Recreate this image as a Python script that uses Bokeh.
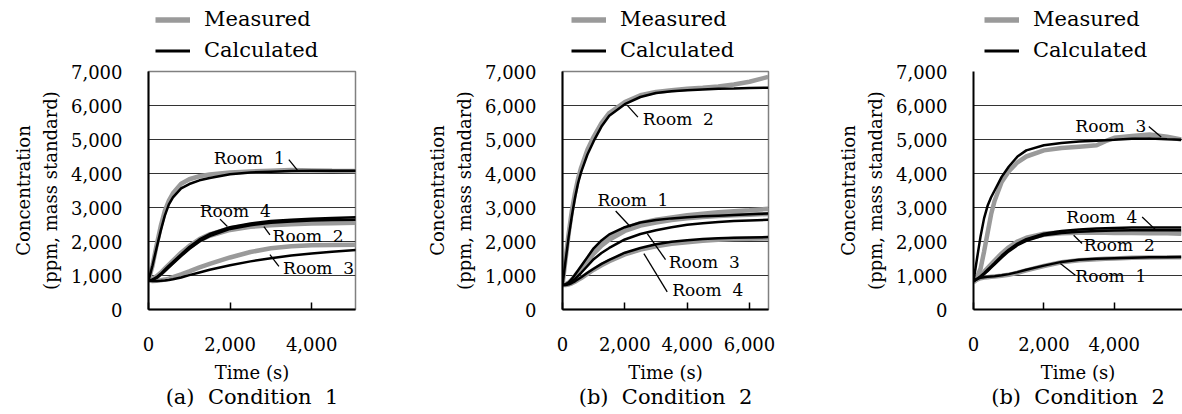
from bokeh.plotting import figure
from bokeh.layouts import row, column
from bokeh.models import (Range1d, FixedTicker, NumeralTickFormatter, Label, Legend,
                          LegendItem, Title, Grid)
from bokeh.embed import file_html
from bokeh.resources import INLINE

NB = "\u00a0"
FONT = "DejaVu Serif"

# ---------------- data ----------------
# Condition 1 (a)
t1 = [0, 100, 200, 300, 400, 500, 600, 800, 1000, 1250, 1500, 2000, 2500, 3000, 3500, 4000, 4500, 5100]
c1_room1_calc = [850, 1300, 1820, 2320, 2760, 3090, 3300, 3560, 3690, 3800, 3870, 3980, 4030, 4055, 4070, 4078, 4080, 4080]
c1_room1_meas = [850, 1300, 1900, 2450, 2900, 3200, 3420, 3700, 3830, 3920, 3970, 4030, 4060, 4080, 4100, 4090, 4080, 4070]
c1_room4_calc = [850, 880, 950, 1050, 1170, 1290, 1400, 1620, 1840, 2060, 2220, 2420, 2530, 2600, 2640, 2670, 2690, 2710]
c1_room4_meas = [850, 900, 980, 1080, 1200, 1320, 1440, 1670, 1870, 2070, 2210, 2390, 2480, 2530, 2560, 2580, 2590, 2600]
c1_room2_calc = [850, 870, 930, 1020, 1130, 1240, 1350, 1570, 1780, 2000, 2160, 2370, 2480, 2550, 2590, 2615, 2630, 2640]
c1_room2_meas = [850, 880, 950, 1050, 1160, 1280, 1400, 1630, 1830, 2030, 2170, 2340, 2430, 2480, 2510, 2530, 2540, 2550]
c1_room3_calc = [850, 840, 840, 845, 855, 870, 890, 940, 1010, 1090, 1170, 1300, 1415, 1510, 1585, 1650, 1700, 1750]
c1_room3_meas = [850, 840, 845, 860, 880, 910, 950, 1030, 1120, 1240, 1340, 1530, 1690, 1800, 1860, 1890, 1900, 1905]

# Condition 2 (b)
t2 = [0, 100, 200, 300, 400, 500, 600, 800, 1000, 1250, 1500, 2000, 2500, 3000, 3500, 4000, 4500, 5000, 5500, 6000, 6600]
c2_room2_calc = [720, 1450, 2150, 2750, 3280, 3720, 4050, 4560, 4950, 5380, 5700, 6040, 6250, 6370, 6420, 6450, 6470, 6490, 6500, 6515, 6525]
c2_room2_meas = [720, 1500, 2250, 2900, 3420, 3850, 4180, 4700, 5080, 5480, 5780, 6100, 6300, 6400, 6450, 6490, 6520, 6560, 6620, 6700, 6840]
c2_room1_calc = [720, 740, 800, 900, 1020, 1150, 1280, 1540, 1800, 2030, 2210, 2420, 2560, 2630, 2680, 2710, 2740, 2760, 2780, 2800, 2820]
c2_room1_meas = [720, 740, 790, 880, 990, 1110, 1230, 1480, 1740, 1970, 2150, 2380, 2540, 2640, 2710, 2770, 2820, 2860, 2890, 2920, 2960]
c2_room3_calc = [720, 730, 760, 820, 900, 990, 1080, 1280, 1480, 1660, 1810, 2060, 2220, 2330, 2420, 2490, 2540, 2570, 2600, 2620, 2640]
c2_room3_meas = [720, 740, 780, 850, 950, 1060, 1170, 1400, 1640, 1880, 2050, 2310, 2470, 2560, 2630, 2680, 2720, 2750, 2770, 2790, 2810]
c2_room4_calc = [720, 720, 740, 780, 830, 890, 950, 1080, 1200, 1340, 1460, 1670, 1810, 1920, 1990, 2040, 2075, 2095, 2110, 2120, 2130]
c2_room4_meas = [720, 720, 735, 770, 815, 870, 925, 1050, 1170, 1300, 1420, 1620, 1760, 1860, 1930, 1980, 2020, 2050, 2070, 2080, 2090]

# Condition 2 (third panel)
t3 = [0, 100, 200, 300, 400, 500, 600, 800, 1000, 1250, 1500, 2000, 2500, 3000, 3500, 3750, 4000, 4500, 5000, 5500, 5900]
c3_room3_calc = [830, 1500, 2150, 2680, 3050, 3300, 3500, 3900, 4200, 4500, 4680, 4830, 4900, 4940, 4965, 4978, 4990, 5020, 5030, 5010, 4995]
c3_room3_meas = [830, 950, 1200, 1700, 2250, 2800, 3200, 3750, 4060, 4330, 4500, 4680, 4750, 4790, 4830, 4950, 5050, 5100, 5150, 5080, 5000]
c3_room4_calc = [830, 900, 980, 1070, 1170, 1270, 1370, 1580, 1760, 1940, 2070, 2230, 2310, 2350, 2380, 2390, 2400, 2410, 2410, 2410, 2410]
c3_room4_meas = [830, 920, 1010, 1110, 1220, 1330, 1440, 1650, 1830, 2000, 2110, 2230, 2270, 2290, 2300, 2300, 2300, 2290, 2280, 2270, 2260]
c3_room2_calc = [830, 890, 960, 1040, 1130, 1230, 1330, 1530, 1710, 1890, 2020, 2180, 2250, 2290, 2310, 2315, 2320, 2330, 2330, 2330, 2330]
c3_room2_meas = [830, 900, 980, 1070, 1170, 1280, 1390, 1600, 1790, 1960, 2080, 2200, 2240, 2260, 2260, 2255, 2250, 2250, 2240, 2240, 2230]
c3_room1_calc = [830, 900, 930, 950, 960, 970, 980, 1005, 1040, 1100, 1170, 1290, 1400, 1460, 1490, 1500, 1510, 1525, 1535, 1540, 1545]
c3_room1_meas = [800, 880, 920, 940, 950, 960, 970, 990, 1020, 1080, 1150, 1280, 1390, 1450, 1480, 1490, 1500, 1520, 1530, 1535, 1540]

y_ticks = [0, 1000, 2000, 3000, 4000, 5000, 6000, 7000]
x_ticks_a = [0, 2000, 4000]
x_ticks_b = [0, 2000, 4000, 6000]
x_ticks_c = [0, 2000, 4000]

legend_labels = ["Measured", "Calculated"]
captions = ["(a)" + NB + " Condition" + NB + " 1",
            "(b)" + NB + " Condition" + NB + " 2",
            "(b)" + NB + " Condition" + NB + " 2"]

def room(n):
    return "Room" + NB + " " + str(n)

# room label annotations: (text, label x, label y, leader x0, y0, x1, y1)
notes_a = [(room(1), 1600, 4450, 3440, 4410, 3650, 4100),
           (room(4), 1256, 2900, 1753, 2657, 1934, 2440),
           (room(2), 3043, 2167, 2830, 2440, 2977, 2197),
           (room(3), 3300, 1230, 2977, 1611, 3197, 1268)]
notes_b = [(room(2), 2579, 5612, 2080, 6002, 2419, 5659),
           (room(1), 1120, 3211, 1706, 2897, 2186, 2427),
           (room(3), 3411, 1398, 2720, 2233, 3306, 1469),
           (room(4), 3520, 567, 2611, 1645, 3360, 517)]
notes_c = [(room(3), 2893, 5385, 4979, 5385, 5332, 5071),
           (room(4), 2637, 2721, 4791, 2721, 5169, 2350),
           (room(2), 3130, 1889, 2845, 2183, 3084, 1939),
           (room(1), 2893, 978, 2467, 1351, 2893, 1008)]

MEAS_COLOR = "#9a9a9a"
CALC_COLOR = "#000000"
MEAS_W = 4.5
CALC_W = 2.5
NAN = float("nan")

LEG_H = 63          # height of the legend strip above each panel
TOP_B = 71 - LEG_H  # remaining top border of the main panel


def make_legend_fig(width, glyph_x):
    lf = figure(frame_width=width, frame_height=LEG_H,
                min_border_left=0, min_border_right=0,
                min_border_top=0, min_border_bottom=0,
                x_range=Range1d(0, 1), y_range=Range1d(0, 1),
                x_axis_type=None, y_axis_type=None,
                toolbar_location=None, output_backend="svg",
                outline_line_color=None, border_fill_color="white")
    lf.grid.visible = False
    rm = lf.line([NAN], [NAN], line_color=MEAS_COLOR, line_width=5.3)
    rc = lf.line([NAN], [NAN], line_color=CALC_COLOR, line_width=3)
    leg = Legend(items=[LegendItem(label=legend_labels[0], renderers=[rm]),
                        LegendItem(label=legend_labels[1], renderers=[rc])],
                 location=(glyph_x, LEG_H - 65.5), orientation="vertical",
                 background_fill_alpha=0, border_line_alpha=0,
                 padding=0, margin=0, spacing=0,
                 glyph_width=35, glyph_height=31, label_height=31,
                 label_standoff=14, label_text_font=FONT,
                 label_text_font_size="21px", label_text_color="black")
    lf.add_layout(leg, "center")
    return lf


def make_panel(t, meas_list, calc_list, xmax, xticks, notes, caption,
               b_left, f_width, b_right, outline=True):
    p = figure(frame_width=f_width, frame_height=238,
               min_border_left=b_left, min_border_right=b_right,
               min_border_top=TOP_B, min_border_bottom=105,
               x_range=Range1d(0, xmax), y_range=Range1d(0, 7000),
               toolbar_location=None, output_backend="svg",
               background_fill_color="white", border_fill_color="white")
    p.xgrid.visible = False
    p.ygrid.ticker = FixedTicker(ticks=y_ticks[1:-1])
    p.ygrid.grid_line_color = "#333333"
    p.ygrid.grid_line_width = 1
    if outline:
        p.outline_line_color = "#808080"
        p.outline_line_width = 1.5
    else:
        p.outline_line_color = None
        top = Grid(dimension=1, ticker=FixedTicker(ticks=[7000]),
                   grid_line_color="#808080", grid_line_width=1.5)
        p.add_layout(top)

    p.yaxis.ticker = FixedTicker(ticks=y_ticks)
    p.yaxis.formatter = NumeralTickFormatter(format="0,0")
    p.yaxis.major_tick_in = 0
    p.yaxis.major_tick_out = 0
    p.yaxis.minor_tick_line_color = None
    p.yaxis.major_label_standoff = 26
    p.yaxis.axis_label = "Concentration\n(ppm, mass standard)"
    p.yaxis.axis_label_standoff = 7
    p.yaxis.axis_label_text_line_height = 1.3
    p.xaxis.ticker = FixedTicker(ticks=xticks)
    p.xaxis.formatter = NumeralTickFormatter(format="0,0")
    p.xaxis.major_tick_in = 7
    p.xaxis.major_tick_out = 0
    p.xaxis.minor_tick_line_color = None
    p.xaxis.major_label_standoff = 27
    p.xaxis.axis_label = "Time (s)"
    p.xaxis.axis_label_standoff = 8
    for ax in (p.xaxis, p.yaxis):
        ax.axis_line_color = "black"
        ax.axis_line_width = 2
        ax.major_tick_line_color = "black"
        ax.major_tick_line_width = 1.5
        ax.major_label_text_font = FONT
        ax.major_label_text_font_size = "18px"
        ax.major_label_text_color = "black"
        ax.axis_label_text_font = FONT
        ax.axis_label_text_font_size = "18px"
        ax.axis_label_text_font_style = "normal"
        ax.axis_label_text_color = "black"

    for m in meas_list:
        p.line(t, m, line_color=MEAS_COLOR, line_width=MEAS_W)
    for c in calc_list:
        p.line(t, c, line_color=CALC_COLOR, line_width=CALC_W)

    for (txt, lx, ly, x0, y0, x1, y1) in notes:
        p.add_layout(Label(x=lx, y=ly, text=txt, text_baseline="middle",
                           text_align="left", text_font=FONT,
                           text_font_size="17px", text_color="black"))
    p.segment(x0=[n[3] for n in notes], y0=[n[4] for n in notes],
              x1=[n[5] for n in notes], y1=[n[6] for n in notes],
              line_color="black", line_width=1.3)

    cap = Title(text=caption, align="center", text_font=FONT,
                text_font_size="21px", text_font_style="normal",
                text_color="black", standoff=-5, offset=0)
    p.add_layout(cap, "below")
    return p


p1 = make_panel(t1,
                [c1_room1_meas, c1_room4_meas, c1_room2_meas, c1_room3_meas],
                [c1_room1_calc, c1_room4_calc, c1_room2_calc, c1_room3_calc],
                5075, x_ticks_a, notes_a, captions[0], 148, 207, 45)
p2 = make_panel(t2,
                [c2_room2_meas, c2_room1_meas, c2_room3_meas, c2_room4_meas],
                [c2_room2_calc, c2_room1_calc, c2_room3_calc, c2_room4_calc],
                6610, x_ticks_b, notes_b, captions[1], 162, 206, 22)
p3 = make_panel(t3,
                [c3_room3_meas, c3_room4_meas, c3_room2_meas, c3_room1_meas],
                [c3_room3_calc, c3_room4_calc, c3_room2_calc, c3_room1_calc],
                5937, x_ticks_c, notes_c, captions[2], 183, 209, 0, outline=False)

l1 = make_legend_fig(400, 155)
l2 = make_legend_fig(390, 171)
l3 = make_legend_fig(392, 194)

layout = row(column(l1, p1), column(l2, p2), column(l3, p3))
open("out.html", "w").write(file_html(layout, INLINE))
